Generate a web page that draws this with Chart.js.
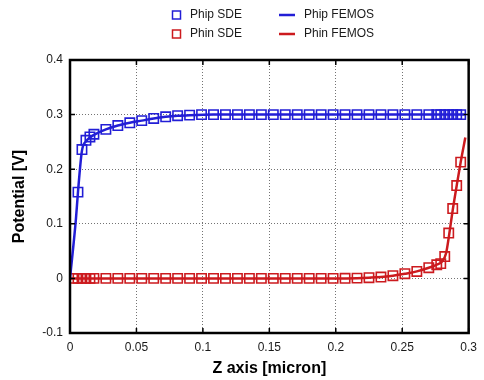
<!DOCTYPE html>
<html>
<head>
<meta charset="utf-8">
<script src="https://cdn.jsdelivr.net/npm/chart.js@4"></script>
<style>
  html, body { margin: 0; padding: 0; background: #fff; }
  #wrap { width: 484px; height: 380px; }
</style>
</head>
<body>
<div id="wrap"><canvas id="potChart" width="484" height="380"></canvas></div>
<script>
// Phip SDE markers
const phipSdeZ = [0.006, 0.009, 0.012, 0.015, 0.018, 0.027, 0.036, 0.045, 0.054, 0.063, 0.072, 0.081, 0.090,
    0.099, 0.108, 0.117, 0.126, 0.135, 0.144, 0.153, 0.162, 0.171, 0.180, 0.189, 0.198, 0.207, 0.216, 0.225,
    0.234, 0.243, 0.252, 0.261, 0.270, 0.276, 0.279, 0.282, 0.285, 0.288, 0.291, 0.294];
const phipSde = [0.158, 0.236, 0.253, 0.259, 0.264, 0.273, 0.280, 0.285, 0.289, 0.293, 0.296, 0.298, 0.299,
    0.300, 0.300, 0.300, 0.300, 0.300, 0.300, 0.300, 0.300, 0.300, 0.300, 0.300, 0.300, 0.300, 0.300, 0.300,
    0.300, 0.300, 0.300, 0.300, 0.300, 0.300, 0.300, 0.300, 0.300, 0.300, 0.300, 0.300];

// Phin SDE markers
const phinSdeZ = [0.003, 0.006, 0.009, 0.012, 0.015, 0.018, 0.027, 0.036, 0.045, 0.054, 0.063, 0.072, 0.081,
    0.090, 0.099, 0.108, 0.117, 0.126, 0.135, 0.144, 0.153, 0.162, 0.171, 0.180, 0.189, 0.198, 0.207, 0.216,
    0.225, 0.234, 0.243, 0.252, 0.261, 0.270, 0.276, 0.279, 0.282, 0.285, 0.288, 0.291, 0.294];
const phinSde = [0, 0, 0, 0, 0, 0, 0, 0, 0, 0, 0, 0, 0,
    0, 0, 0, 0, 0, 0, 0, 0, 0, 0, 0, 0, 0, 0.0002, 0.0005,
    0.0013, 0.0024, 0.005, 0.0086, 0.0128, 0.0196, 0.025, 0.027, 0.040, 0.083, 0.128, 0.170, 0.213];

// FEMOS curves
const phipFemosZ = [0, 0.0045, 0.006, 0.009, 0.012, 0.015, 0.018, 0.027, 0.036, 0.045, 0.054, 0.063, 0.072,
    0.081, 0.090, 0.108, 0.200, 0.297];
const phipFemos = [0, 0.110, 0.158, 0.234, 0.251, 0.258, 0.263, 0.273, 0.280, 0.285, 0.289, 0.293, 0.296,
    0.298, 0.299, 0.300, 0.300, 0.300];
const phinFemosZ = [0, 0.100, 0.200, 0.216, 0.225, 0.234, 0.243, 0.252, 0.261, 0.270, 0.276, 0.280, 0.283,
    0.2855, 0.288, 0.291, 0.294, 0.2975];
const phinFemos = [0, 0, 0, 0.0005, 0.0013, 0.0025, 0.005, 0.0085, 0.0128, 0.0195, 0.025, 0.031, 0.046,
    0.083, 0.125, 0.170, 0.213, 0.258];

const xTicks = [0, 0.05, 0.1, 0.15, 0.2, 0.25, 0.3];
const yTicks = [-0.1, 0, 0.1, 0.2, 0.3, 0.4];

const BLUE = 'rgb(34,30,214)';
const RED = 'rgb(204,26,30)';
const FONT = "'Liberation Sans', Arial, Helvetica, sans-serif";

const zip = (xs, ys) => xs.map((x, i) => ({ x: x, y: ys[i] }));

const sdeStyle = (color) => ({
    showLine: false,
    pointStyle: 'rect',
    pointRadius: 6.6,
    pointHoverRadius: 6.6,
    pointBorderWidth: 1.6,
    pointBorderColor: color,
    pointBackgroundColor: 'rgba(0,0,0,0)',
    borderColor: color,
    backgroundColor: color
});

const femosStyle = (color) => ({
    showLine: true,
    pointRadius: 0,
    borderWidth: 2.5,
    borderColor: color,
    backgroundColor: color,
    cubicInterpolationMode: 'monotone'
});

const data = {
    datasets: [
        { label: 'Phip FEMOS', data: zip(phipFemosZ, phipFemos), ...femosStyle(BLUE) },
        { label: 'Phin FEMOS', data: zip(phinFemosZ, phinFemos), ...femosStyle(RED) },
        { label: 'Phip SDE', data: zip(phipSdeZ, phipSde), ...sdeStyle(BLUE) },
        { label: 'Phin SDE', data: zip(phinSdeZ, phinSde), ...sdeStyle(RED) }
    ]
};

// gnuplot-like frame with inward tick marks on all sides
const framePlugin = {
    id: 'frame',
    afterDraw: (chart) => {
        const ctx = chart.ctx;
        const a = chart.chartArea;
        const xs = chart.scales.x;
        const ys = chart.scales.y;
        ctx.save();
        ctx.strokeStyle = '#000';
        ctx.lineWidth = 1.5;
        xTicks.forEach(v => {
            const px = xs.getPixelForValue(v);
            ctx.beginPath();
            ctx.moveTo(px, a.bottom); ctx.lineTo(px, a.bottom - 5);
            ctx.moveTo(px, a.top); ctx.lineTo(px, a.top + 5);
            ctx.stroke();
        });
        yTicks.forEach(v => {
            const py = ys.getPixelForValue(v);
            ctx.beginPath();
            ctx.moveTo(a.left, py); ctx.lineTo(a.left + 5, py);
            ctx.moveTo(a.right, py); ctx.lineTo(a.right - 5, py);
            ctx.stroke();
        });
        ctx.lineWidth = 2.5;
        ctx.strokeRect(a.left, a.top, a.right - a.left, a.bottom - a.top);
        ctx.restore();
    }
};

// two-column key above the plot
const keyPlugin = {
    id: 'key',
    afterDraw: (chart) => {
        const ctx = chart.ctx;
        const ds = chart.data.datasets;
        const rows = [15, 34];
        ctx.save();
        ctx.font = '12px ' + FONT;
        ctx.fillStyle = '#1a1a1a';
        ctx.textBaseline = 'middle';
        ctx.textAlign = 'left';
        // SDE column
        [ds[2], ds[3]].forEach((d, i) => {
            const y = rows[i];
            ctx.strokeStyle = d.borderColor;
            ctx.lineWidth = 1.5;
            ctx.strokeRect(172.5, y - 4, 8, 8);
            ctx.fillText(d.label, 190, y);
        });
        // FEMOS column
        [ds[0], ds[1]].forEach((d, i) => {
            const y = rows[i];
            ctx.strokeStyle = d.borderColor;
            ctx.lineWidth = 2.5;
            ctx.beginPath();
            ctx.moveTo(279, y); ctx.lineTo(295, y);
            ctx.stroke();
            ctx.fillText(d.label, 304, y);
        });
        ctx.restore();
    }
};

const fmt = (v) => {
    const r = Math.round(v * 100) / 100;
    return r === 0 ? '0' : String(r);
};

const config = {
    type: 'scatter',
    data: data,
    options: {
        responsive: false,
        animation: false,
        events: [],
        layout: { padding: { top: 60, right: 11, left: 0, bottom: 0 } },
        plugins: {
            legend: { display: false },
            tooltip: { enabled: false }
        },
        scales: {
            x: {
                type: 'linear',
                min: 0,
                max: 0.3,
                afterBuildTicks: (s) => { s.ticks = xTicks.map(v => ({ value: v })); },
                afterFit: (s) => { s.height = 47; },
                ticks: {
                    color: '#1a1a1a',
                    padding: 7,
                    font: { size: 12, family: FONT },
                    callback: (v) => fmt(v)
                },
                grid: {
                    color: 'rgba(0,0,0,0.55)',
                    lineWidth: 1,
                    drawTicks: false
                },
                border: { display: false, dash: [1, 2] },
                title: {
                    display: true,
                    text: 'Z axis [micron]',
                    color: '#000',
                    font: { size: 16, weight: 'bold', family: FONT },
                    padding: { top: 0, bottom: 2 }
                }
            },
            y: {
                type: 'linear',
                min: -0.1,
                max: 0.4,
                afterBuildTicks: (s) => { s.ticks = yTicks.map(v => ({ value: v })); },
                afterFit: (s) => { s.width = 70; },
                ticks: {
                    color: '#1a1a1a',
                    padding: 7,
                    font: { size: 12, family: FONT },
                    callback: (v) => fmt(v)
                },
                grid: {
                    color: 'rgba(0,0,0,0.55)',
                    lineWidth: 1,
                    drawTicks: false
                },
                border: { display: false, dash: [1, 2] },
                title: {
                    display: true,
                    text: 'Potential [V]',
                    color: '#000',
                    font: { size: 16, weight: 'bold', family: FONT },
                    padding: { top: 10, bottom: 0 }
                }
            }
        }
    },
    plugins: [framePlugin, keyPlugin]
};

const chart = new Chart(document.getElementById('potChart').getContext('2d'), config);
</script>
</body>
</html>
